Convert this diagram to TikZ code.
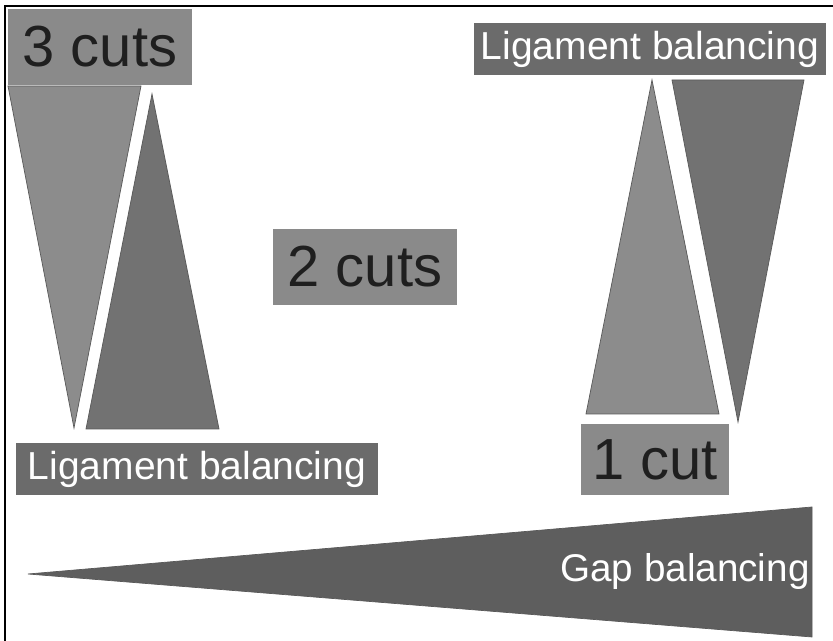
\documentclass[tikz,border=0pt]{standalone}
\usepackage{fontspec}
\setmainfont{Liberation Sans}
\definecolor{cutgray}{HTML}{8A8A8A}
\definecolor{liggray}{HTML}{6B6B6B}
\definecolor{lightwedge}{HTML}{8C8C8C}
\definecolor{darkwedge}{HTML}{727272}
\definecolor{gapgray}{HTML}{5E5E5E}
\begin{document}
\begin{tikzpicture}[x=0.02cm,y=-0.02cm,
    cut node/.style={fill=cutgray,inner sep=0pt,text=black!88,font=\fontsize{33}{33}\selectfont},
    lig node/.style={fill=liggray,inner sep=0pt,text=white,font=\fontsize{22.2}{22.2}\selectfont,minimum height=1.04cm},
    wedge/.style={draw=black!65,line width=0.4pt}]
                \useasboundingbox (0,0) rectangle (833,641);
                \fill[white] (0,0) rectangle (833,641);
                \draw[line width=1pt] (5,641) -- (5,6) -- (833,6);

                % wedges on the left
                \filldraw[wedge,fill=lightwedge] (8,86) -- (141,86) -- (74,428) -- cycle;
                \filldraw[wedge,fill=darkwedge] (152,94) -- (219,429) -- (86,429) -- cycle;

                % wedges on the right
                \filldraw[wedge,fill=lightwedge] (652,80) -- (719,414) -- (586,414) -- cycle;
                \filldraw[wedge,fill=darkwedge] (672,80) -- (804,80) -- (738,422) -- cycle;

                % gap wedge along the bottom
                \filldraw[wedge,fill=gapgray] (28,574) -- (812,507) -- (812,637) -- cycle;

                \node[cut node,minimum width=3.68cm,minimum height=1.52cm] at (100,47) (three) {3 cuts};
                \node[cut node,minimum width=3.68cm,minimum height=1.52cm] at (365,267) (two) {2 cuts};
                \node[cut node,minimum width=2.96cm,minimum height=1.42cm] at (655,459.5) (one) {1 cut};
                \node[lig node,minimum width=7.24cm] at (197,469) (ligleft) {Ligament balancing};
                \node[lig node,minimum width=7.04cm] at (650,49) (ligright) {Ligament balancing};
                \node[text=white,inner sep=0pt,font=\fontsize{22}{22}\selectfont] at (685,572) (gap) {Gap balancing};
            \end{tikzpicture}
\end{document}
